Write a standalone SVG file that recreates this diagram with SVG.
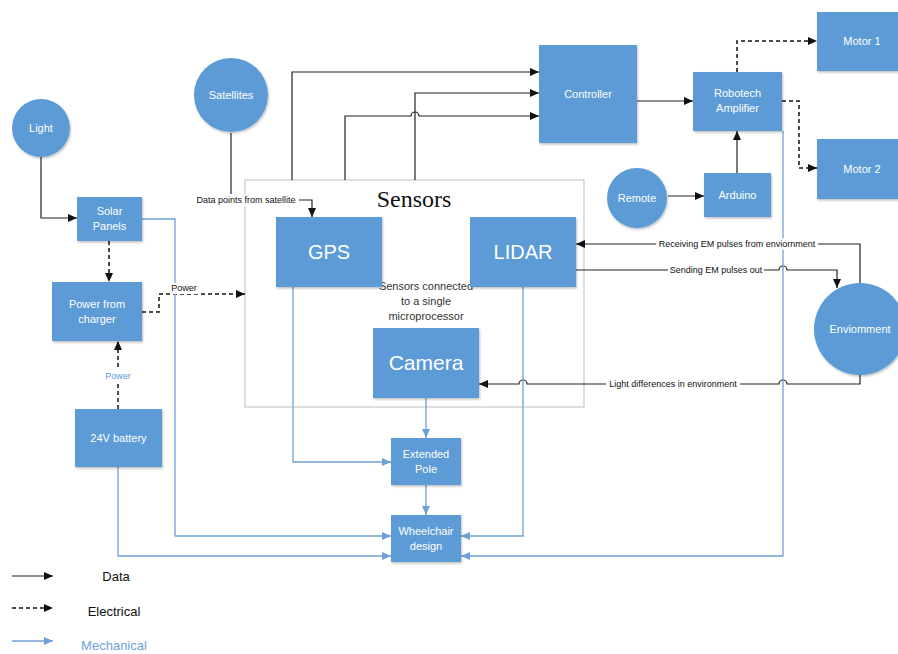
<svg xmlns="http://www.w3.org/2000/svg" width="898" height="654" viewBox="0 0 898 654">
<defs>
<filter id="sh" x="-10%" y="-10%" width="130%" height="130%"><feDropShadow dx="1" dy="1.5" stdDeviation="1" flood-color="#000" flood-opacity="0.25"/></filter>
<marker id="ab" markerWidth="10" markerHeight="8" refX="9" refY="4" orient="auto" markerUnits="userSpaceOnUse"><path d="M0,0 L9,4 L0,8 Z" fill="#111"/></marker>
<marker id="am" markerWidth="10" markerHeight="8" refX="9" refY="4" orient="auto" markerUnits="userSpaceOnUse"><path d="M0,0 L9,4 L0,8 Z" fill="#6FA0D8"/></marker>
</defs>
<style>
.n{fill:#5B9BD5;filter:url(#sh)}
.t{font-family:"Liberation Sans",Arial,sans-serif;font-size:11px;fill:#fff;text-anchor:middle}
.big{font-size:20px}
.d{fill:none;stroke:#222;stroke-width:1.2;marker-end:url(#ab)}
.e{fill:none;stroke:#111;stroke-width:1.5;stroke-dasharray:4 3;marker-end:url(#ab)}
.m{fill:none;stroke:#6FA0D8;stroke-width:1.3;marker-end:url(#am)}
.lbl{font-family:"Liberation Sans",Arial,sans-serif;font-size:9px;fill:#111;text-anchor:middle}
.lg{font-family:"Liberation Sans",Arial,sans-serif;font-size:13px;text-anchor:middle}
</style>
<rect width="898" height="654" fill="#fff"/>
<g id="sensors">
<rect x="245" y="180" width="339" height="227" fill="#fff" stroke="#c8c8c8" stroke-width="1.2"/>
<text x="414" y="207" font-family="Liberation Serif,Times New Roman,serif" font-size="24" text-anchor="middle" fill="#111">Sensors</text>
<text x="426" y="290" font-family="Liberation Sans,Arial,sans-serif" font-size="11" text-anchor="middle" fill="#333">Sensors connected</text>
<text x="426" y="305" font-family="Liberation Sans,Arial,sans-serif" font-size="11" text-anchor="middle" fill="#333">to a single</text>
<text x="426" y="320" font-family="Liberation Sans,Arial,sans-serif" font-size="11" text-anchor="middle" fill="#333">microprocessor</text>
</g>
<g id="connectors">
<path class="d" d="M41,157 V218 H77"/>
<path class="d" d="M231,133 V200 H312 V217"/>
<path class="d" d="M292,180 V72 H539"/>
<path class="d" d="M415,180 V93 H539"/>
<path class="d" d="M345,180 V116 H411 A4,4 0 0 1 419,116 H539"/>
<path class="d" d="M637,101 H693"/>
<path class="d" d="M668,196 H704"/>
<path class="d" d="M737,173 V131"/>
<path class="d" d="M860,283 V244 H576"/>
<path class="d" d="M576,270 H779 A4,4 0 0 1 787,270 H837 V288"/>
<path class="d" d="M860,375 V384 H787 A4,4 0 0 0 779,384 H527 A4,4 0 0 0 519,384 H479"/>
<path class="e" d="M109,241 V282"/>
<path class="e" d="M142,312 H159 V294 H245"/>
<path class="e" d="M118,409 V341"/>
<path class="e" d="M737,72 V41 H817"/>
<path class="e" d="M782,101 H799 V168 H817"/>
<path class="m" d="M142,219 H175 V536 H391"/>
<path class="m" d="M293,287 V462 H391"/>
<path class="m" d="M426,398 V438"/>
<path class="m" d="M426,485 V515"/>
<path class="m" d="M118,467 V556 H391"/>
<path class="m" d="M523,287 V536 H461"/>
<path class="m" d="M783,131 V556 H461"/>
</g>
<g id="labels">
<rect x="194" y="194" width="105" height="12" fill="#fff"/>
<text class="lbl" x="246" y="203">Data points from satellite</text>
<rect x="170" y="283" width="29" height="11" fill="#fff"/>
<text class="lbl" x="184" y="291">Power</text>
<rect x="104" y="370" width="28" height="11" fill="#fff"/>
<text class="lbl" x="118" y="379" style="fill:#5B9BD5">Power</text>
<rect x="656" y="238" width="162" height="12" fill="#fff"/>
<text class="lbl" x="737" y="247">Receiving EM pulses from enviornment</text>
<rect x="668" y="264" width="96" height="12" fill="#fff"/>
<text class="lbl" x="716" y="273">Sending EM pulses out</text>
<rect x="606" y="378" width="134" height="12" fill="#fff"/>
<text class="lbl" x="673" y="387">Light differences in environment</text>
</g>
<g id="light"><circle class="n" cx="41" cy="128" r="29"/><text class="t" x="41" y="132">Light</text></g>
<g id="satellites"><circle class="n" cx="231" cy="95" r="37"/><text class="t" x="231" y="99">Satellites</text></g>
<g id="solar"><rect class="n" x="77" y="197" width="65" height="44"/><text class="t" x="109.5" y="215">Solar</text><text class="t" x="109.5" y="230">Panels</text></g>
<g id="charger"><rect class="n" x="52" y="282" width="90" height="59"/><text class="t" x="97" y="308">Power from</text><text class="t" x="97" y="323">charger</text></g>
<g id="battery"><rect class="n" x="75" y="409" width="87" height="58"/><text class="t" x="118.5" y="442">24V battery</text></g>
<g id="gps"><rect class="n" x="276" y="217" width="106" height="70"/><text class="t big" x="329" y="259">GPS</text></g>
<g id="lidar"><rect class="n" x="470" y="217" width="106" height="70"/><text class="t big" x="523" y="259">LIDAR</text></g>
<g id="camera"><rect class="n" x="373" y="328" width="106" height="70"/><text class="t big" x="426" y="370" style="font-size:21px">Camera</text></g>
<g id="pole"><rect class="n" x="391" y="438" width="70" height="47"/><text class="t" x="426" y="458">Extended</text><text class="t" x="426" y="473">Pole</text></g>
<g id="wheelchair"><rect class="n" x="391" y="515" width="70" height="47"/><text class="t" x="426" y="535">Wheelchair</text><text class="t" x="426" y="550">design</text></g>
<g id="controller"><rect class="n" x="539" y="45" width="98" height="98"/><text class="t" x="588" y="98">Controller</text></g>
<g id="amplifier"><rect class="n" x="693" y="72" width="89" height="59"/><text class="t" x="737.5" y="97">Robotech</text><text class="t" x="737.5" y="112">Amplifier</text></g>
<g id="motor1"><rect class="n" x="817" y="12" width="90" height="59"/><text class="t" x="862" y="45">Motor 1</text></g>
<g id="motor2"><rect class="n" x="817" y="139" width="90" height="60"/><text class="t" x="862" y="173">Motor 2</text></g>
<g id="remote"><circle class="n" cx="637" cy="198" r="30"/><text class="t" x="637" y="202">Remote</text></g>
<g id="arduino"><rect class="n" x="704" y="173" width="67" height="44"/><text class="t" x="737.5" y="199">Arduino</text></g>
<g id="environment"><circle class="n" cx="860" cy="329" r="46"/><text class="t" x="860" y="333">Enviomment</text></g>
<g id="legend">
<path class="d" d="M12,576 H53"/>
<text class="lg" x="116" y="581" fill="#111">Data</text>
<path class="e" d="M12,608 H53"/>
<text class="lg" x="114" y="616" fill="#111">Electrical</text>
<path class="m" d="M12,641 H53"/>
<text class="lg" x="114" y="650" fill="#6FA0D8">Mechanical</text>
</g>
</svg>
